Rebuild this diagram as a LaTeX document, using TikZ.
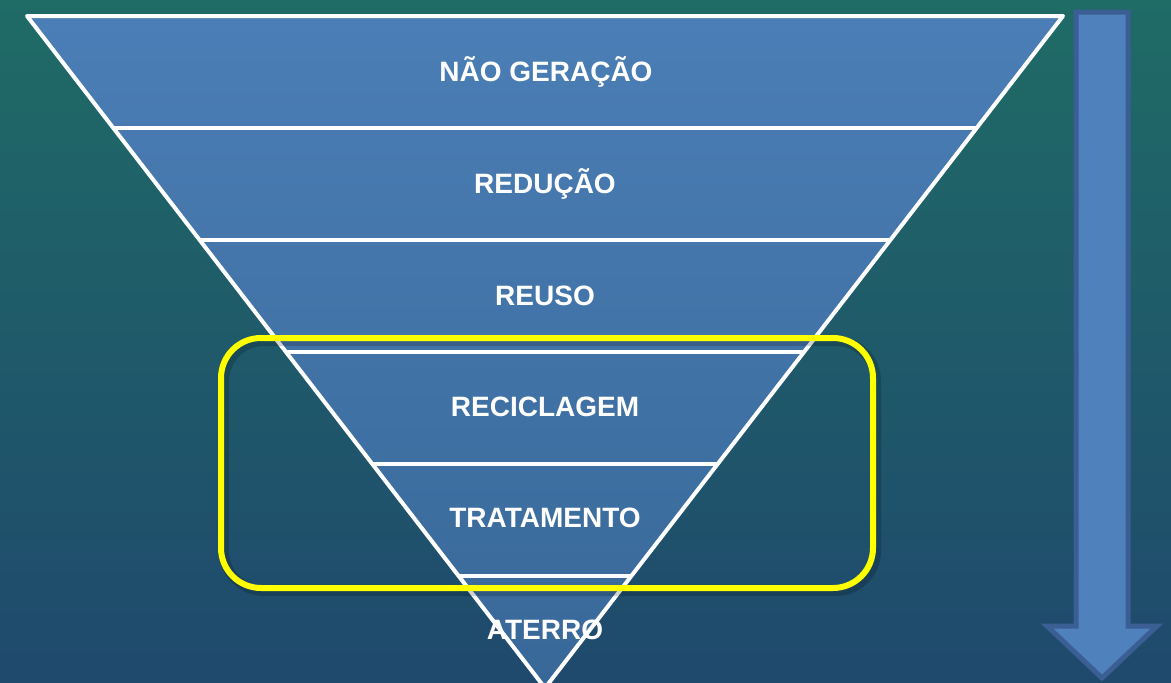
\documentclass[tikz,border=0pt]{standalone}
\usepackage{fontspec}
\setmainfont{Liberation Sans}
\definecolor{bgtop}{HTML}{1F6B66}
\definecolor{bgbot}{HTML}{1F496D}
\definecolor{tritop}{HTML}{4B7EB6}
\definecolor{tribot}{HTML}{386898}
\definecolor{arrowfill}{HTML}{4F81BD}
\definecolor{arrowedge}{HTML}{3B5E94}
\definecolor{hiyellow}{HTML}{FFFF00}
\tikzset{
  bandlabel/.style={text=white, font=\bfseries\fontsize{28}{32}\selectfont, inner sep=0pt, anchor=center},
  bandline/.style={draw=white, line width=4pt},
  highlight/.style={draw=hiyellow, line width=6pt, rounded corners=40pt},
}
\begin{document}
\begin{tikzpicture}[x=1pt,y=-1pt]
\useasboundingbox (0,0) rectangle (1171,683);
\shade[top color=bgtop,bottom color=bgbot] (0,0) rectangle (1171,683);
\begin{scope}
\clip (0,0) rectangle (1171,683);
\shade[top color=tritop,bottom color=tribot] (27,16) -- (1063,16) -- (545,688) -- cycle;
\draw[bandline, line join=round] (27,16) -- (1063,16) -- (545,688) -- cycle;
\draw[bandline] (113.3,128) -- (976.7,128);
\draw[bandline] (199.7,240) -- (890.3,240);
\draw[bandline] (286.0,352) -- (804.0,352);
\draw[bandline] (372.3,464) -- (717.7,464);
\draw[bandline] (458.7,576) -- (631.3,576);
\end{scope}
\node[bandlabel] (b1) at (546,72) {NÃO GERAÇÃO};
\node[bandlabel] (b2) at (545,184) {REDUÇÃO};
\node[bandlabel] (b3) at (545,296) {REUSO};
\node[bandlabel] (b4) at (545,407) {RECICLAGEM};
\node[bandlabel] (b5) at (545,518) {TRATAMENTO};
% highlight box with soft shadow
\draw[draw=black, opacity=0.18, line width=10pt, rounded corners=40pt] (224,341) rectangle (876,591);
\draw[highlight] (221,338) rectangle (873,588);
\node[bandlabel] (b6) at (545,630) {ATERRO};
% arrow
\draw[fill=arrowfill, draw=arrowedge, line width=5pt, line join=miter]
  (1076,12) -- (1128,12) -- (1128,626) -- (1157,626) -- (1102,678) -- (1047,626) -- (1076,626) -- cycle;
\end{tikzpicture}
\end{document}
